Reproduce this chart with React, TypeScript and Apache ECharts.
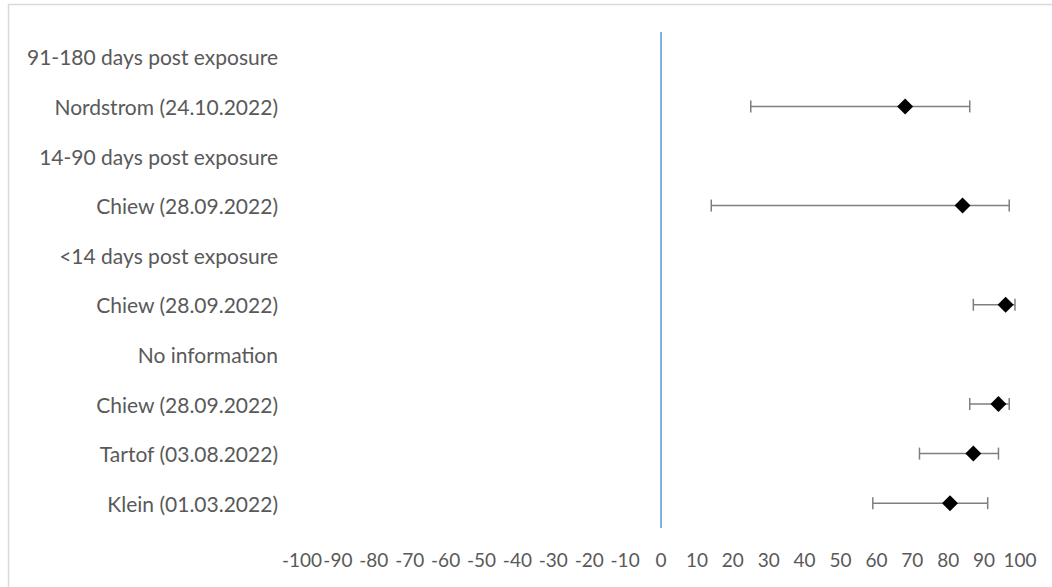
import React, { useEffect, useRef } from "react";
import * as echarts from "echarts";

const categories = [
  "91-180 days post exposure",
  "Nordstrom (24.10.2022)",
  "14-90 days post exposure",
  "Chiew (28.09.2022)",
  "<14 days post exposure",
  "Chiew (28.09.2022)",
  "No information",
  "Chiew (28.09.2022)",
  "Tartof (03.08.2022)",
  "Klein (01.03.2022)",
];

// null = header row without an estimate
const estimates: (number | null)[] = [null, 68, null, 84, null, 96, null, 94, 87, 80.5];
const lowerCI: (number | null)[] = [null, 25, null, 14, null, 87, null, 86, 72, 59];
const upperCI: (number | null)[] = [null, 86, null, 97, null, 98.6, null, 97, 94, 91];

const FONT = "Lato";

export default function App() {
  const ref = useRef<HTMLDivElement>(null);
  useEffect(() => {
    if (!ref.current) return;
    const chart = echarts.init(ref.current, null, { renderer: "svg" });
    const idx = categories.map((_, i) => i);
    const scatterData = idx
      .filter((i) => estimates[i] !== null)
      .map((i) => [estimates[i], i]);
    const ciData = idx
      .filter((i) => estimates[i] !== null)
      .map((i) => [lowerCI[i], upperCI[i], i]);
    chart.setOption({
      animation: false,
      backgroundColor: "#ffffff",
      graphic: [
        {
          type: "rect",
          shape: { x: 8.5, y: 4.5, width: 1200, height: 800 },
          style: { fill: "none", stroke: "#d9d9d9", lineWidth: 1.5 },
          silent: true,
        },
      ],
      grid: { left: 302, right: 32, top: 32, bottom: 59, containLabel: false },
      xAxis: {
        type: "value",
        min: -100,
        max: 100,
        interval: 10,
        axisLine: { show: false },
        axisTick: { show: false },
        splitLine: { show: false },
        axisLabel: {
          color: "#595959",
          fontFamily: FONT,
          fontSize: 19,
          margin: 22,
          interval: 0,
          hideOverlap: false,
        },
      },
      yAxis: {
        type: "category",
        data: categories,
        inverse: true,
        axisLine: { show: true, lineStyle: { color: "#d9d9d9", width: 1 } },
        axisTick: { show: false },
        splitLine: { show: false },
        axisLabel: {
          color: "#595959",
          fontFamily: FONT,
          fontSize: 21,
          margin: 24,
          interval: 0,
        },
      },
      series: [
        {
          type: "custom",
          data: ciData,
          encode: { x: [0, 1], y: 2 },
          z: 2,
          renderItem: (params: any, api: any) => {
            const y = api.value(2);
            const p1 = api.coord([api.value(0), y]);
            const p2 = api.coord([api.value(1), y]);
            const h = 6;
            const style = { stroke: "#7f7f7f", lineWidth: 1.5 };
            return {
              type: "group",
              children: [
                { type: "line", shape: { x1: p1[0], y1: p1[1], x2: p2[0], y2: p2[1] }, style },
                { type: "line", shape: { x1: p1[0], y1: p1[1] - h, x2: p1[0], y2: p1[1] + h }, style },
                { type: "line", shape: { x1: p2[0], y1: p2[1] - h, x2: p2[0], y2: p2[1] + h }, style },
              ],
            };
          },
        },
        {
          type: "scatter",
          data: scatterData,
          symbol: "diamond",
          symbolSize: [16, 16],
          itemStyle: { color: "#000000", opacity: 1 },
          z: 3,
          markLine: {
            silent: true,
            symbol: ["none", "none"],
            label: { show: false },
            lineStyle: { color: "#5b9bd5", width: 1.5, type: "solid", opacity: 1 },
            data: [{ xAxis: 0 }],
          },
        },
      ],
    });
    return () => chart.dispose();
  }, []);
  return (
    <div
      ref={ref}
      style={{ position: "absolute", left: 0, top: 0, width: 1052, height: 587 }}
    />
  );
}
